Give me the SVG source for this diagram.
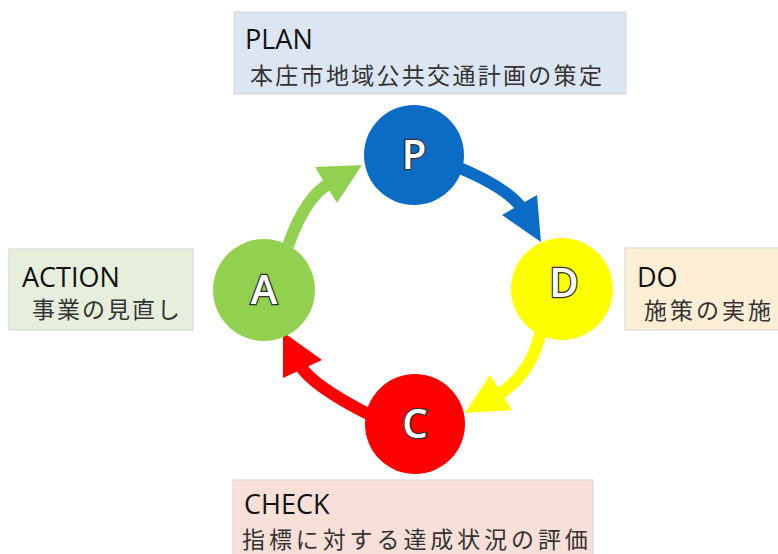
<svg xmlns="http://www.w3.org/2000/svg" width="778" height="554" viewBox="0 0 778 554">
<style>
.box{stroke:#d4d4d4;stroke-width:1}
.en{font-family:"Open Sans","Noto Sans","Liberation Sans",sans-serif;font-size:27px;fill:#111}
.jp{font-family:"Noto Sans CJK JP","Noto Sans",sans-serif;font-size:23px;fill:#333}
.letter{font-family:"Open Sans","Noto Sans","Liberation Sans",sans-serif;font-size:40px;font-weight:600;fill:#fff;stroke:#333;stroke-width:2.6;text-anchor:middle;paint-order:stroke}
.shaft{fill:none;stroke-width:12}
</style>
<rect width="778" height="554" fill="#fff"/>
<g id="connectors">
  <path class="shaft" d="M 455,166 Q 509,188 523,210" stroke="#0A6CC4"/>
  <polygon points="502,215 537,195 541,242" fill="#0A6CC4"/>
  <path class="shaft" d="M 541,330 Q 532,374 498,395" stroke="#FFFF00"/>
  <polygon points="490,375 512,410 465,413" fill="#FFFF00"/>
  <path class="shaft" d="M 370,415 Q 311,385 300,365" stroke="#FF0000"/>
  <polygon points="322,360 283,378 283,332" fill="#FF0000"/>
  <path class="shaft" d="M 288,246 Q 305,197 330,183" stroke="#92D050"/>
  <polygon points="315,167 337,203 362,165" fill="#92D050"/>
</g>
<g id="plan">
  <rect class="box" x="234" y="12" width="392" height="82" fill="#DCE6F2"/>
  <text class="en" x="245" y="49">PLAN</text>
  <text class="jp" x="250" y="84" letter-spacing="2.3">本庄市地域公共交通計画の策定</text>
</g>
<g id="action">
  <rect class="box" x="9" y="249" width="184" height="81" fill="#E5EFDC"/>
  <text class="en" x="22" y="287">ACTION</text>
  <text class="jp" x="32" y="318" letter-spacing="2">事業の見直し</text>
</g>
<g id="do">
  <rect class="box" x="625" y="248" width="160" height="82" fill="#FDEFD5"/>
  <text class="en" x="637" y="287">DO</text>
  <text class="jp" x="644" y="319" letter-spacing="3">施策の実施</text>
</g>
<g id="check">
  <rect class="box" x="233" y="480" width="360" height="80" fill="#F8E0D8"/>
  <text class="en" x="244" y="514">CHECK</text>
  <text class="jp" x="242" y="547.5" font-size="22" letter-spacing="3.9">指標に対する達成状況の評価</text>
</g>
<g id="node-p">
  <circle cx="414" cy="155" r="50" fill="#0A6CC4"/>
  <text class="letter" x="414" y="169">P</text>
</g>
<g id="node-d">
  <circle cx="562" cy="289" r="51" fill="#FFFF00"/>
  <text class="letter" x="564" y="297">D</text>
</g>
<g id="node-c">
  <circle cx="415" cy="424" r="50" fill="#FF0000"/>
  <text class="letter" x="415" y="438">C</text>
</g>
<g id="node-a">
  <circle cx="264" cy="290" r="51" fill="#92D050"/>
  <text class="letter" x="264" y="304">A</text>
</g>
</svg>
